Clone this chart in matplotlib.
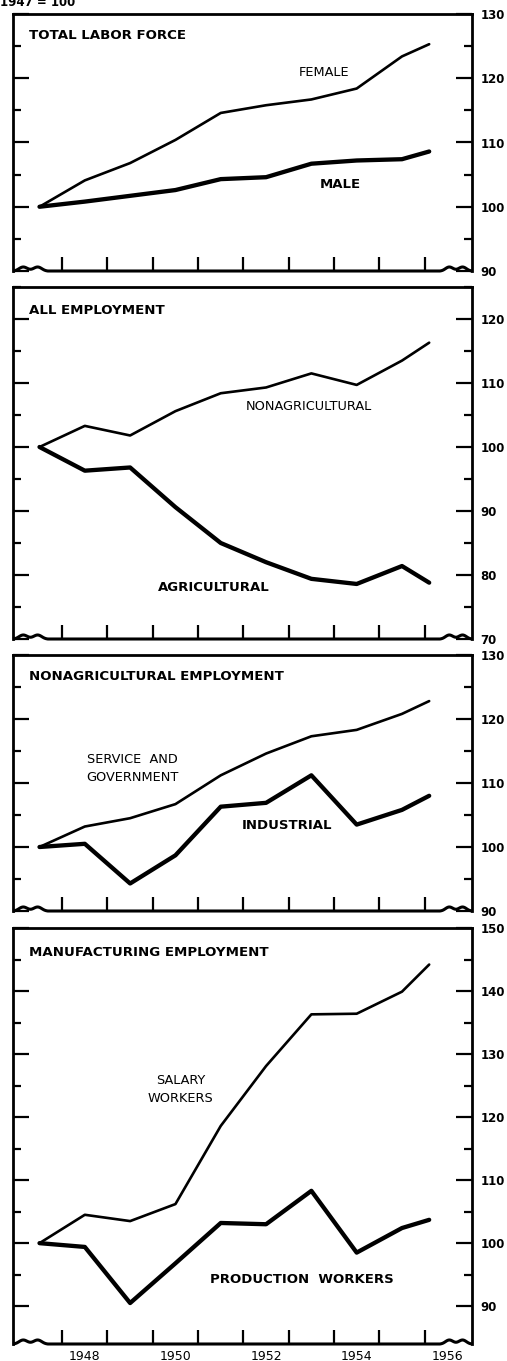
import numpy as np
import matplotlib
matplotlib.use("Agg")
import matplotlib.pyplot as plt

# index values, 1947 = 100 (last point is early 1956)
years = [1947, 1948, 1949, 1950, 1951, 1952, 1953, 1954, 1955, 1955.6]
year_labels = [1948, 1950, 1952, 1954, 1956]

female = [100, 104.1, 106.8, 110.4, 114.6, 115.8, 116.7, 118.4, 123.4, 125.3]
male = [100, 100.8, 101.7, 102.6, 104.3, 104.6, 106.7, 107.2, 107.4, 108.6]
nonagricultural = [100, 103.3, 101.8, 105.6, 108.4, 109.3, 111.5, 109.7, 113.5, 116.3]
agricultural = [100, 96.3, 96.8, 90.6, 85.0, 82.0, 79.4, 78.6, 81.4, 78.8]
service_gov = [100, 103.2, 104.5, 106.7, 111.2, 114.6, 117.3, 118.3, 120.8, 122.8]
industrial = [100, 100.5, 94.3, 98.7, 106.3, 106.9, 111.2, 103.5, 105.8, 108.0]
salary = [100, 104.5, 103.5, 106.2, 118.6, 128.1, 136.3, 136.4, 139.9, 144.2]
production = [100, 99.4, 90.5, 96.8, 103.2, 103.0, 108.3, 98.5, 102.4, 103.7]

W, H = 507, 1361
fig = plt.figure(figsize=(W / 100, H / 100), dpi=100)
fig.patch.set_facecolor("white")

BLACK = "black"
panels = [
    # top px, bottom px, ylim, title, title y, thin series, thick series
    dict(top=14, bot=271, ylim=(90, 130), title="TOTAL LABOR FORCE", ty=126.6,
         thin=female, thick=male,
         thin_lbl=("FEMALE", 1953.28, 120.9), thick_lbl=("MALE", 1953.64, 103.4)),
    dict(top=287, bot=639, ylim=(70, 125), title="ALL EMPLOYMENT", ty=121.3,
         thin=nonagricultural, thick=agricultural,
         thin_lbl=("NONAGRICULTURAL", 1952.95, 106.3),
         thick_lbl=("AGRICULTURAL", 1950.84, 78.0)),
    dict(top=655, bot=911, ylim=(90, 130), title="NONAGRICULTURAL EMPLOYMENT", ty=126.6,
         thin=service_gov, thick=industrial,
         thin_lbl=("SERVICE  AND\nGOVERNMENT", 1949.05, 112.3),
         thick_lbl=("INDUSTRIAL", 1952.47, 103.3)),
    dict(top=928, bot=1344, ylim=(84, 150), title="MANUFACTURING EMPLOYMENT", ty=146.1,
         thin=salary, thick=production,
         thin_lbl=("SALARY\nWORKERS", 1950.11, 124.4),
         thick_lbl=("PRODUCTION  WORKERS", 1952.78, 94.2)),
]

left_px, right_px = 13, 472
xlim = (1946.415, 1956.545)


def bottom_edge(ax):
    # bottom axis line with the "break" squiggles at both ends
    h = ax.bbox.height
    amp = 4.0 / h
    t = np.linspace(0, 1, 60)
    w = np.sin(np.pi * t) * (1 - 0.5 * np.cos(4 * np.pi * t))
    w = amp * w / w.max()
    xa, xb = 0.076, 0.930
    xs = np.concatenate([xa * t, [xa, xb], xb + (1 - xb) * t])
    ys = np.concatenate([w, [0, 0], w])
    ax.plot(xs, ys, color=BLACK, lw=2.2, transform=ax.transAxes, clip_on=False,
            solid_joinstyle="round", solid_capstyle="butt")


for i, p in enumerate(panels):
    ax = fig.add_axes([left_px / W, 1 - p["bot"] / H,
                       (right_px - left_px) / W, (p["bot"] - p["top"]) / H])
    ax.set_xlim(*xlim)
    ax.set_ylim(*p["ylim"])

    ax.plot(years, p["thin"], color=BLACK, lw=1.9, solid_joinstyle="round",
            solid_capstyle="round")
    ax.plot(years, p["thick"], color=BLACK, lw=3.1, solid_joinstyle="round",
            solid_capstyle="round")

    for s in ["left", "right", "top"]:
        ax.spines[s].set_linewidth(2.0)
    ax.spines["bottom"].set_visible(False)
    bottom_edge(ax)

    lo, hi = p["ylim"]
    majors = np.arange(np.ceil(lo / 10) * 10, hi + 0.1, 10)
    minors = majors + 5
    minors = minors[minors <= hi + 0.1]
    ax.set_yticks(majors)
    ax.set_yticklabels([str(int(m)) for m in majors])
    ax.set_yticks(minors, minor=True)
    ax.tick_params(axis="y", which="both", direction="in", left=True, right=True,
                   labelleft=False, labelright=True, width=1.6, color=BLACK)
    ax.tick_params(axis="y", which="major", length=11.5, pad=6, labelsize=8.5)
    ax.tick_params(axis="y", which="minor", length=5.5)
    for lbl in ax.get_yticklabels():
        lbl.set_fontweight("bold")

    ax.set_xticks(np.arange(1947.5, 1956, 1.0))
    ax.set_xticklabels([])
    ax.tick_params(axis="x", which="major", direction="in", length=10, width=1.6,
                   color=BLACK)
    if i == len(panels) - 1:
        ax.set_xticks(year_labels, [str(y) for y in year_labels], minor=True)
        ax.tick_params(axis="x", which="minor", length=0, pad=4, labelsize=9)

    ax.text(1946.77, p["ty"], p["title"], ha="left", va="center",
            fontsize=9.6, fontweight="bold")
    txt, tx, ty = p["thin_lbl"]
    ax.text(tx, ty, txt, ha="center", va="center", fontsize=9.3,
            linespacing=1.55)
    txt, tx, ty = p["thick_lbl"]
    ax.text(tx, ty, txt, ha="center", va="center", fontsize=9.5,
            fontweight="bold")

fig.text(0.0, 1 - 6 / H, "1947 = 100", ha="left", va="baseline",
         fontsize=8.5, fontweight="bold")

fig.savefig("out.png", dpi=100)
